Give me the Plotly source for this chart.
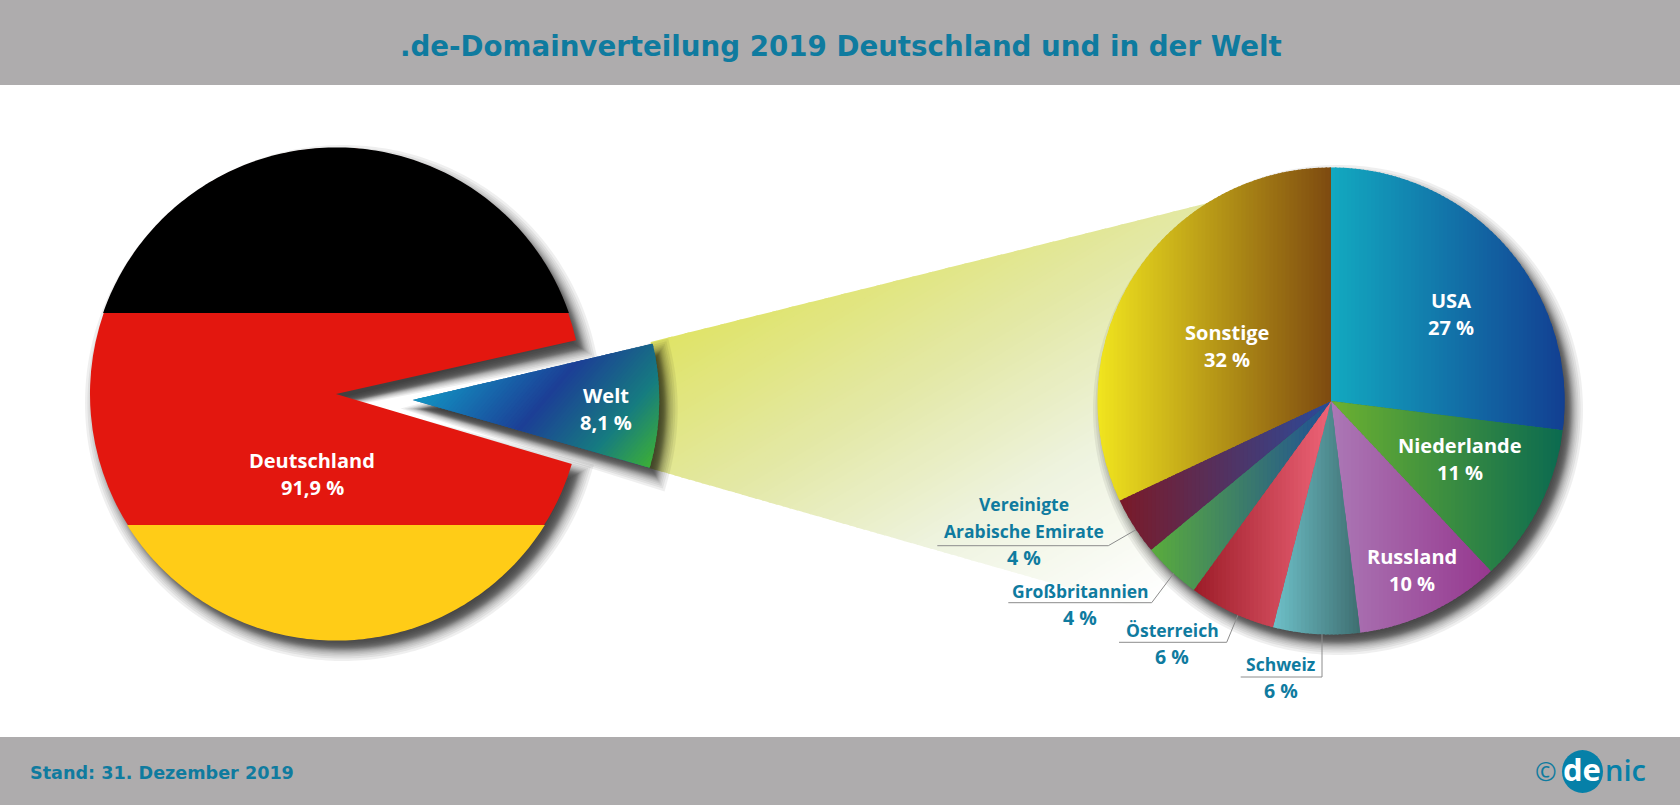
import math
import plotly.graph_objects as go

# ---------- data ----------
TITLE = ".de-Domainverteilung 2019 Deutschland und in der Welt"
FOOTER = "Stand: 31. Dezember 2019"
left_labels = ["Welt", "Deutschland"]
left_values = [8.1, 91.9]
left_text = ["8,1 %", "91,9 %"]
right_labels = ["USA", "Niederlande", "Russland", "Schweiz", "Österreich",
                "Großbritannien", "Vereinigte Arabische Emirate", "Sonstige"]
right_values = [27, 11, 10, 6, 6, 4, 4, 32]
right_text = ["27 %", "11 %", "10 %", "6 %", "6 %", "4 %", "4 %", "32 %"]

# ---------- styles ----------
W, H = 1680, 805
GRAY = "#aeacad"
TEAL = "#0f7b9f"
LOGO = "#0680a8"
RED, BLACK, YELLOW = "#e3170f", "#000000", "#ffcc17"
DE_C, DE_R = (336, 394), 246
WELT_C, WELT_R = (412.7, 400), 246
RIGHT_C, RIGHT_R = (1331, 401), 233
DE_ROT, WELT_ROT = 77.4, 76.8
BAND_BLACK_Y, BAND_YELLOW_Y = 313, 525
RIGHT_GRAD = [("#12a9c0", "#123f92"), ("#6cb130", "#0b6a50"), ("#ab78b5", "#96388f"),
              ("#6ec1c9", "#3e6e70"), ("#9c1c28", "#ee6478"), ("#5aac3c", "#1f4f96"),
              ("#7a1a28", "#2b4a9a"), ("#f1e51e", "#7d4a10")]
RIGHT_BASE = ["#1278aa", "#3c8e40", "#a058a2", "#569a9e", "#c84050", "#3c7e6a", "#523262", "#b89018"]
WELT_STOPS = [(573.5, "#1296c4"), (674, "#1c3f96"), (745.5, "#167c80"), (797, "#3cae38"), (860, "#3cae38")]
WELT_U = (0.76, 0.65)
BEAM_U = (0.5, 0.85)
BEAM_STOPS = [(600, "#dfe35f"), (780, "#e3e8a5"), (930, "#eef3df"), (1090, "#ffffff")]
BEAM_POLY = [(650.7, 342), (1240, 195), (1240, 637), (649, 468)]
SHADOW_DX, SHADOW_DY, SHADOW_BLUR = 7, 9, 12


def hex2rgb(c):
    return tuple(int(c[i:i + 2], 16) for i in (1, 3, 5))


def mix(c0, c1, t):
    a, b = hex2rgb(c0), hex2rgb(c1)
    return "rgb(%d,%d,%d)" % tuple(round(a[i] + (b[i] - a[i]) * t) for i in range(3))


def sector(c, r, a0, a1):
    n = max(2, int(abs(a1 - a0)))
    full = a1 - a0 >= 359.9
    pts = [] if full else [c]
    for i in range(n + (0 if full else 1)):
        a = math.radians(a0 + (a1 - a0) * i / n)
        pts.append((c[0] + r * math.sin(a), c[1] - r * math.cos(a)))
    return pts


def clip(poly, nx, ny, d):
    """keep points with nx*x+ny*y >= d"""
    out = []
    for i, p in enumerate(poly):
        q = poly[(i + 1) % len(poly)]
        sp = nx * p[0] + ny * p[1] - d
        sq = nx * q[0] + ny * q[1] - d
        if sp >= 0:
            out.append(p)
        if (sp >= 0) != (sq >= 0):
            t = sp / (sp - sq)
            out.append((p[0] + (q[0] - p[0]) * t, p[1] + (q[1] - p[1]) * t))
    return out


def grow(poly, d):
    """move each vertex outward by d (polygons run clockwise on screen)"""
    n = len(poly)
    out = []
    for i in range(n):
        p0, p, p1 = poly[i - 1], poly[i], poly[(i + 1) % n]
        e0 = (p[0] - p0[0], p[1] - p0[1])
        e1 = (p1[0] - p[0], p1[1] - p[1])
        l0, l1 = math.hypot(*e0), math.hypot(*e1)
        n0 = (e0[1] / l0, -e0[0] / l0)
        n1 = (e1[1] / l1, -e1[0] / l1)
        bx, by = n0[0] + n1[0], n0[1] + n1[1]
        bl = math.hypot(bx, by) or 1
        bx, by = bx / bl, by / bl
        cosh = max(bx * n0[0] + by * n0[1], 0.01)
        m = min(d / cosh, 1.6 * abs(d)) if d > 0 else max(d / cosh, -1.6 * abs(d))
        out.append((p[0] + bx * m, p[1] + by * m))
    return out


def path(poly, dx=0, dy=0):
    return "M" + "L".join("%.2f,%.2f" % (x + dx, y + dy) for x, y in poly) + "Z"


def poly_shape(poly, color, layer="above", dx=0, dy=0):
    return dict(type="path", xref="x", yref="y", path=path(poly, dx, dy), fillcolor=color,
                layer=layer, line=dict(width=0))


def stops_color(stops, t):
    if t <= stops[0][0]:
        return mix(stops[0][1], stops[0][1], 0)
    for (a, ca), (b, cb) in zip(stops, stops[1:]):
        if t <= b:
            return mix(ca, cb, (t - a) / (b - a))
    return mix(stops[-1][1], stops[-1][1], 0)


def strips(poly, u, stops, step=4, layer="above"):
    proj = [u[0] * x + u[1] * y for x, y in poly]
    lo, hi = min(proj), max(proj)
    res = []
    t = lo
    while t < hi:
        part = clip(clip(poly, u[0], u[1], t), -u[0], -u[1], -(t + step + 1.5))
        if len(part) >= 3:
            res.append(poly_shape(part, stops_color(stops, t + step / 2), layer=layer))
        t += step
    return res


def shadow(poly):
    res = []
    n = 20
    for i in range(n):
        x = 1 - 2 * i / (n - 1)
        d = SHADOW_BLUR * (0.45 * x + 0.55 * x ** 3)
        res.append(poly_shape(grow(poly, d), "rgba(0,0,0,0.062)", layer="below",
                              dx=SHADOW_DX, dy=SHADOW_DY))
    return res


shapes = [
    dict(type="rect", xref="x", yref="y", x0=0, x1=W, y0=0, y1=85, fillcolor=GRAY, line_width=0, layer="below"),
    dict(type="rect", xref="x", yref="y", x0=0, x1=W, y0=737, y1=H, fillcolor=GRAY, line_width=0, layer="below"),
]

# beam between the two pies
shapes += strips(BEAM_POLY, BEAM_U, BEAM_STOPS, step=5, layer="below")

# geometry derived from the values
welt_span = left_values[0] / sum(left_values) * 360
de_poly = sector(DE_C, DE_R, DE_ROT + welt_span, DE_ROT + 360)
de_over = sector(DE_C, DE_R + 0.6, DE_ROT + welt_span, DE_ROT + 360)
welt_poly = sector(WELT_C, WELT_R, WELT_ROT, WELT_ROT + welt_span)
circle_poly = sector(RIGHT_C, RIGHT_R, 0, 360)

# drop shadows
shapes += shadow(de_poly)
shapes += shadow(welt_poly)
shapes += shadow(circle_poly)

# flag bands over the Deutschland slice
shapes.append(poly_shape(clip(de_over, 0, -1, -BAND_BLACK_Y), BLACK))
shapes.append(poly_shape(clip(de_over, 0, 1, BAND_YELLOW_Y), YELLOW))

# gradient of the Welt slice
shapes += strips(sector(WELT_C, WELT_R + 0.5, WELT_ROT, WELT_ROT + welt_span), WELT_U, WELT_STOPS, step=3)

# gradients of the right pie
total = sum(right_values)
acc = 0
for v, (c0, c1) in zip(right_values, RIGHT_GRAD):
    a0 = acc / total * 360
    acc += v
    a1 = acc / total * 360
    poly = sector(RIGHT_C, RIGHT_R + 0.5, a0, a1)
    xs = [p[0] for p in poly]
    shapes += strips(poly, (1, 0), [(min(xs), c0), (max(xs), c1)], step=4)

# logo
shapes.append(dict(type="circle", xref="x", yref="y", x0=1562, x1=1603, y0=750, y1=793,
                   fillcolor=LOGO, line_width=0, layer="above"))


def domain(c, r):
    return dict(x=[(c[0] - r) / W, (c[0] + r) / W], y=[1 - (c[1] + r) / H, 1 - (c[1] - r) / H])


fig = go.Figure()
# leader lines
leaders = [
    ([937.3, 1108.3, 1136.7], [545.7, 545.7, 529.3]),
    ([1008.3, 1151.7, 1175], [602.7, 602.7, 571.7]),
    ([1119, 1226.7, 1238.3], [642.3, 642.3, 614.3]),
    ([1240.7, 1322, 1322], [677, 677, 633.3]),
]
for lx, ly in leaders:
    fig.add_trace(go.Scatter(x=lx, y=ly, mode="lines", line=dict(color="#8c8c8c", width=1),
                             hoverinfo="skip", showlegend=False))

fig.add_trace(go.Pie(labels=left_labels, values=left_values, domain=domain(DE_C, DE_R), sort=False,
                     direction="clockwise", rotation=DE_ROT, textinfo="none", showlegend=False,
                     marker=dict(colors=["rgba(0,0,0,0)", RED], line=dict(width=0))))
fig.add_trace(go.Pie(labels=left_labels, values=left_values, domain=domain(WELT_C, WELT_R), sort=False,
                     direction="clockwise", rotation=WELT_ROT, textinfo="none", showlegend=False,
                     marker=dict(colors=["#1c5f96", "rgba(0,0,0,0)"], line=dict(width=0))))
fig.add_trace(go.Pie(labels=right_labels, values=right_values, domain=domain(RIGHT_C, RIGHT_R), sort=False,
                     direction="clockwise", rotation=0, textinfo="none", showlegend=False,
                     marker=dict(colors=RIGHT_BASE, line=dict(width=0))))

BODY = "Open Sans"


def txt(x, y, s, color="white", size=20, family=BODY, weight=700):
    fig.add_annotation(x=x, y=y - 1, xref="x", yref="y", text=s, showarrow=False, xanchor="center",
                       yanchor="middle", font=dict(family=family, size=size, color=color, weight=weight))


def white(x, y0, y1, name, val):
    txt(x, y0, name, "white", 20)
    txt(x, y1, val, "white", 20)


def teal(x, y0, y1, name, val):
    txt(x, y0, name, TEAL, 17.5)
    txt(x, y1, val, TEAL, 19.5)


white(312, 461, 488, left_labels[1], left_text[1])
white(605.7, 396.7, 423, left_labels[0], left_text[0])
white(1450.7, 301, 328, right_labels[0], right_text[0])
white(1460, 446.7, 473, right_labels[1], right_text[1])
white(1412, 557, 584, right_labels[2], right_text[2])
white(1227.3, 333.3, 360, right_labels[7], right_text[7])
teal(1281, 665, 691.7, right_labels[3], right_text[3])
teal(1172.3, 631, 657.7, right_labels[4], right_text[4])
teal(1080, 591.7, 618.3, right_labels[5], right_text[5])
txt(1024.3, 505, "Vereinigte", TEAL, 17.5)
txt(1024.3, 531.7, "Arabische Emirate", TEAL, 17.5)
txt(1024.3, 558.3, right_text[6], TEAL, 19.5)

txt(841, 47, TITLE, TEAL, size=27.7, family="DejaVu Sans")
txt(162, 774, FOOTER, TEAL, size=17.6, family="DejaVu Sans")
txt(1546, 772, "©", TEAL, size=26, weight=400)
txt(1582, 770, "de", "white", size=31)
txt(1625, 770, "nic", LOGO, size=29, weight=600)

fig.update_layout(
    width=W, height=H, margin=dict(l=0, r=0, t=0, b=0), paper_bgcolor="white", plot_bgcolor="rgba(0,0,0,0)",
    showlegend=False, shapes=shapes,
    xaxis=dict(range=[0, W], visible=False, fixedrange=True),
    yaxis=dict(range=[H, 0], visible=False, fixedrange=True),
)
fig.write_html("out.html", config=dict(displayModeBar=False),
               post_script="document.body.style.margin='0';document.body.style.overflow='hidden';")
